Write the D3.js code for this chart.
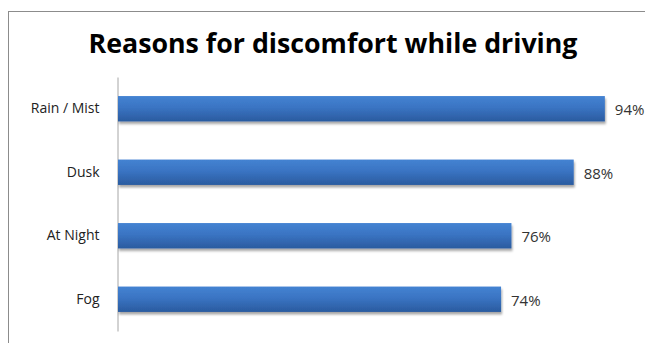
<!DOCTYPE html>
<html lang="en">
<head>
  <meta charset="UTF-8">
  <title>Reasons for discomfort while driving</title>
  <script src="https://d3js.org/d3.v7.min.js"></script>
  <style>
    body { margin: 0; background: #fff; }
    text { font-family: "Open Sans", "Noto Sans", sans-serif; }
  </style>
</head>
<body>
  <div id="chart"></div>
<script>
  const w = 645,
    h = 343;

  // data
  const categories = ["Rain / Mist", "Dusk", "At Night", "Fog"];
  const values = [94, 88, 76, 74];
  const title = "Reasons for discomfort while driving";

  const svg = d3.select("#chart").append("svg")
    .attr("width", w)
    .attr("height", h);

  const defs = svg.append("defs");
  const grad = defs.append("linearGradient")
    .attr("id", "barGrad")
    .attr("x1", 0).attr("y1", 0).attr("x2", 0).attr("y2", 1);
  grad.append("stop").attr("offset", "0%").attr("stop-color", "#4483d2");
  grad.append("stop").attr("offset", "45%").attr("stop-color", "#3a74c3");
  grad.append("stop").attr("offset", "100%").attr("stop-color", "#2a5b9f");

  const shadow = defs.append("filter")
    .attr("id", "shadow")
    .attr("x", "-5%").attr("y", "-20%")
    .attr("width", "110%").attr("height", "160%");
  shadow.append("feDropShadow")
    .attr("dx", 1).attr("dy", 2.5)
    .attr("stdDeviation", 1.2)
    .attr("flood-color", "#000")
    .attr("flood-opacity", 0.35);

  // chart frame (runs off the right and bottom edges)
  svg.append("rect")
    .attr("x", 8.5).attr("y", 11.5)
    .attr("width", 700).attr("height", 400)
    .attr("fill", "none")
    .attr("stroke", "#8c8c8c")
    .attr("stroke-width", 1);

  svg.append("text")
    .attr("x", 333)
    .attr("y", 53)
    .attr("text-anchor", "middle")
    .style("font-family", "'Open Sans', sans-serif")
    .style("font-weight", "bold")
    .style("font-size", "26px")
    .attr("textLength", 489)
    .attr("lengthAdjust", "spacingAndGlyphs")
    .attr("fill", "#000")
    .text(title);

  const x = d3.scaleLinear()
    .domain([0, 100])
    .range([117, 636]);

  const y = d3.scaleBand()
    .domain(categories)
    .range([77, 331])
    .paddingInner(0.6)
    .paddingOuter(0.3);

  // category axis
  const yAxis = svg.append("g")
    .attr("transform", `translate(${x(0) + 0.5},0)`)
    .call(d3.axisLeft(y).tickSize(0).tickPadding(18));
  yAxis.select(".domain").attr("stroke", "#a6a6a6");
  yAxis.selectAll("text")
    .style("font-size", "14px")
    .style("font-family", "'Open Sans', sans-serif")
    .attr("fill", "#222");

  svg.selectAll(".bar")
    .data(values)
    .enter()
    .append("rect")
    .attr("class", "bar")
    .attr("x", x(0) + 1)
    .attr("y", (d, i) => y(categories[i]))
    .attr("width", (d) => x(d) - x(0) - 1)
    .attr("height", y.bandwidth())
    .attr("fill", "url(#barGrad)")
    .attr("filter", "url(#shadow)");

  svg.selectAll(".val")
    .data(values)
    .enter()
    .append("text")
    .attr("class", "val")
    .attr("x", (d) => x(d) + 10)
    .attr("y", (d, i) => y(categories[i]) + y.bandwidth() / 2 + 1)
    .attr("dy", "0.35em")
    .style("font-size", "15px")
    .attr("fill", "#333")
    .text((d) => d + "%");
</script>
</body>
</html>
